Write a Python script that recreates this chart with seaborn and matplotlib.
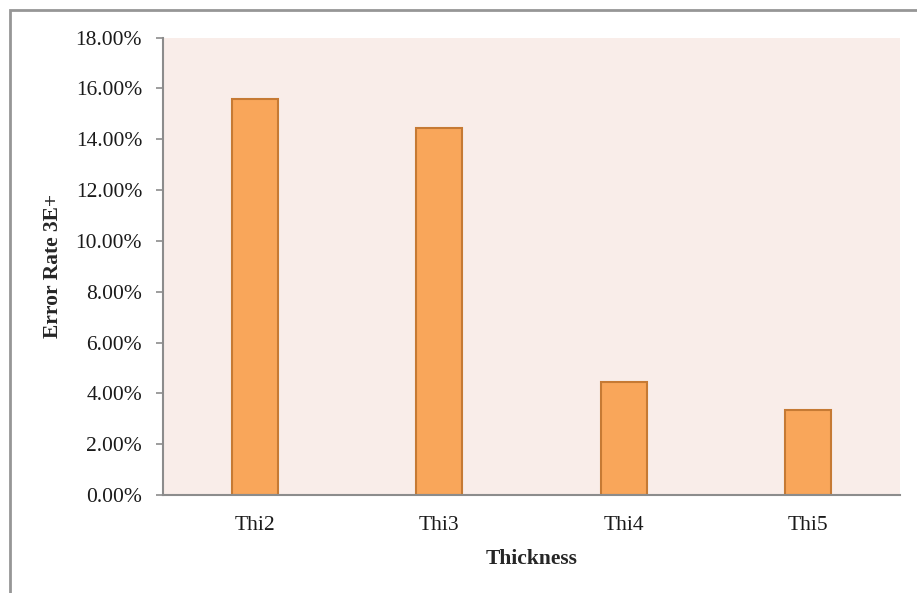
import matplotlib
matplotlib.use("Agg")
import matplotlib.pyplot as plt
import matplotlib.patches as patches
from matplotlib.ticker import PercentFormatter
import seaborn as sns
import pandas as pd

# Values
categories = ["Thi2", "Thi3", "Thi4", "Thi5"]
error_rates = [0.1557, 0.1445, 0.0446, 0.0334]

df = pd.DataFrame({"Thickness": categories, "Error Rate 3E+": error_rates})

sns.set_style("white")
plt.rcParams["font.family"] = ["Liberation Serif", "DejaVu Serif"]

fig = plt.figure(figsize=(9.17, 5.93), dpi=100)
ax = fig.add_axes([163 / 917, 98 / 593, 737 / 917, 457.5 / 593])

sns.barplot(data=df, x="Thickness", y="Error Rate 3E+", ax=ax,
            color="#F9A65A", saturation=1, width=0.25,
            edgecolor="#C67A34", linewidth=1.5)

ax.set_facecolor("#F9EDE9")
ax.set_xlim(-0.5, 3.5)
ax.set_ylim(0, 0.18)
ax.set_yticks([i * 0.02 for i in range(10)])
ax.yaxis.set_major_formatter(PercentFormatter(xmax=1, decimals=2))

for side in ["top", "right"]:
    ax.spines[side].set_visible(False)
for side in ["left", "bottom"]:
    ax.spines[side].set_color("#8C8C8C")
    ax.spines[side].set_linewidth(1.5)

ax.tick_params(axis="y", left=True, length=5, width=1.2, color="#8C8C8C",
               pad=10, labelsize=15.5, labelcolor="#1a1a1a")
ax.tick_params(axis="x", bottom=False, length=0, pad=15, labelsize=15.5,
               labelcolor="#1a1a1a")

ax.set_xlabel("Thickness", fontsize=15.5, fontweight="bold", labelpad=10)
ax.set_ylabel("Error Rate 3E+", fontsize=15.5, fontweight="bold", labelpad=9)

# chart-area frame (partly outside the image, as in the original)
frame = patches.Rectangle((10 / 917, -0.2), 1.2, (583 / 593) + 0.2,
                          transform=fig.transFigure, fill=False,
                          edgecolor="#969696", linewidth=2, clip_on=False)
fig.patches.append(frame)

fig.savefig("out.png", dpi=100)
